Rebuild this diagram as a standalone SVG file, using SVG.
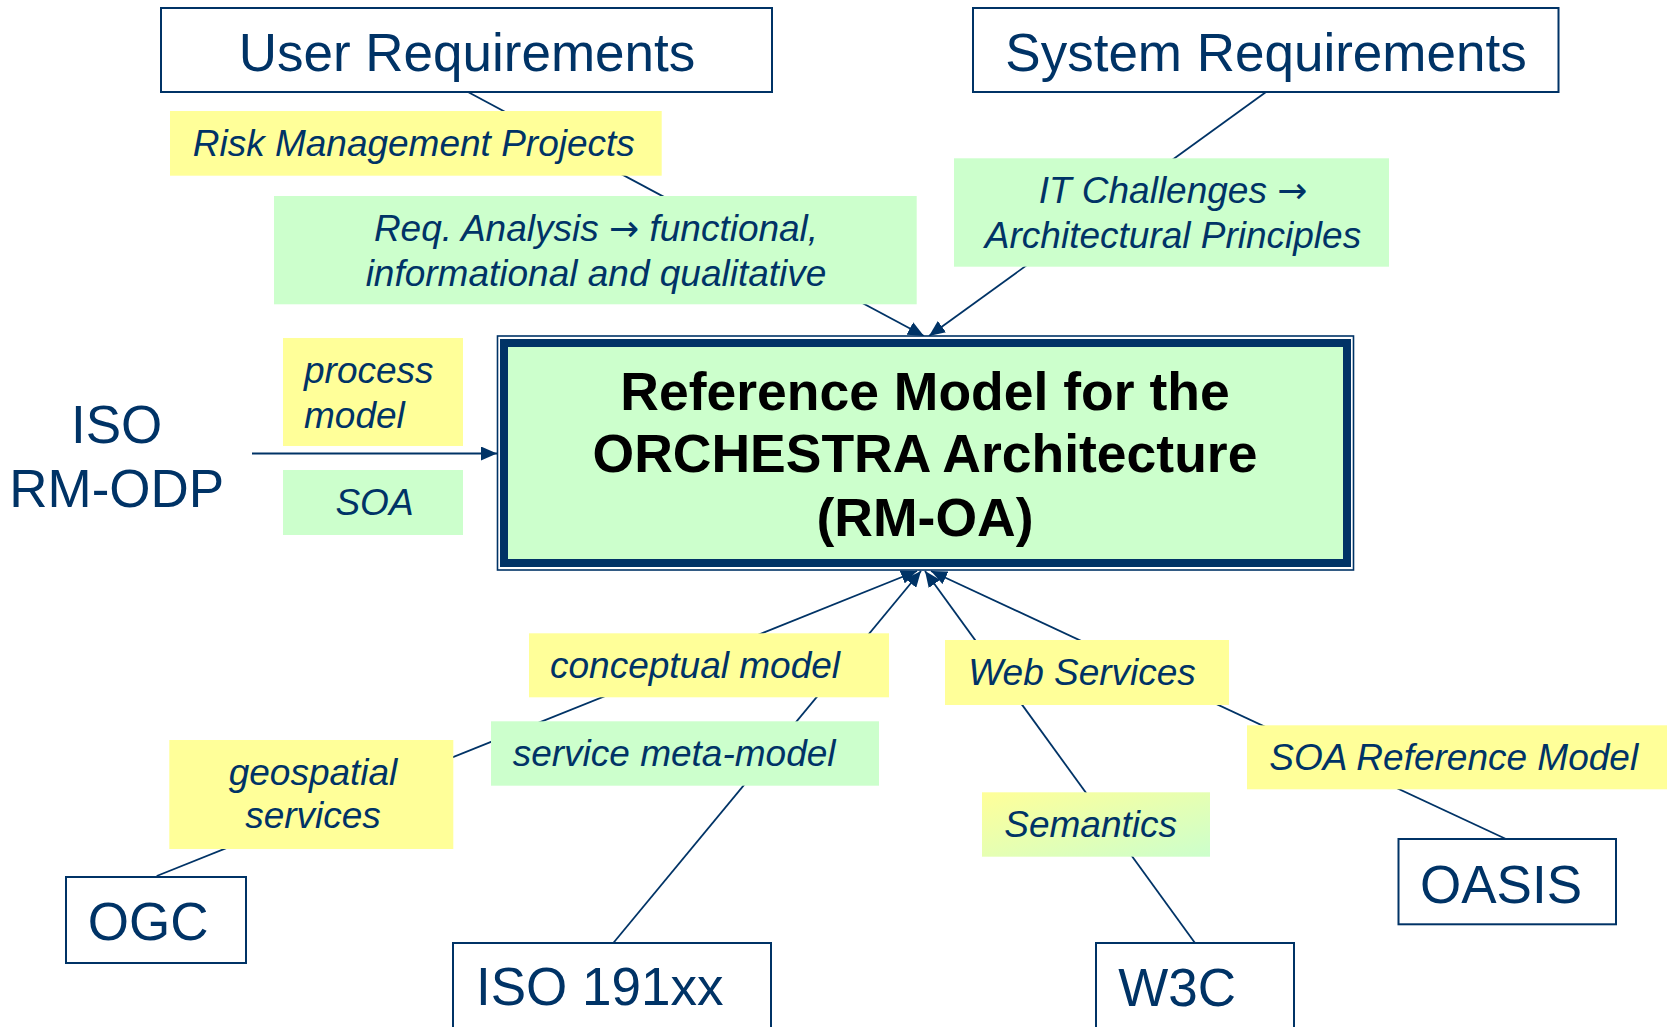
<svg xmlns="http://www.w3.org/2000/svg" width="1667" height="1027" viewBox="0 0 1667 1027">
<style>
  .box { fill: #FFFFFF; stroke: #003366; stroke-width: 2; }
  .yel { fill: #FFFF99; }
  .grn { fill: #CCFFCC; }
  .big { font-family: "Liberation Sans", Arial, sans-serif; font-size: 53px; fill: #003366; }
  .lbl { font-family: "Liberation Sans", Arial, sans-serif; font-size: 37px; font-style: italic; fill: #003366; }
  .ar { font-family: "DejaVu Sans", sans-serif; font-style: normal; font-size: 36px; }
  .main { font-family: "Liberation Sans", Arial, sans-serif; font-size: 53.5px; font-weight: bold; fill: #000000; text-anchor: middle; }
  .con { fill: none; stroke: #003366; stroke-width: 1.8; }
  .mid { text-anchor: middle; }
</style>
<defs>
  <marker id="arr" markerUnits="userSpaceOnUse" markerWidth="17" markerHeight="14" refX="16" refY="7" orient="auto">
    <path d="M0,0 L16,7 L0,14 Z" fill="#003366"/>
  </marker>
  <linearGradient id="semGrad" x1="0" y1="0" x2="1" y2="1">
    <stop offset="0" stop-color="#FFFF99"/>
    <stop offset="1" stop-color="#CCFFCC"/>
  </linearGradient>
</defs>
<rect width="1667" height="1027" fill="#FFFFFF"/>

<g id="connectors">
  <line class="con" x1="468" y1="92" x2="924" y2="336" marker-end="url(#arr)"/>
  <line class="con" x1="1266" y1="92" x2="929" y2="336" marker-end="url(#arr)"/>
  <line class="con" x1="252" y1="453.5" x2="497" y2="453.5" marker-end="url(#arr)"/>
  <line class="con" x1="156.7" y1="876" x2="917" y2="571" marker-end="url(#arr)"/>
  <line class="con" x1="613.3" y1="943" x2="921" y2="571" marker-end="url(#arr)"/>
  <line class="con" x1="1195" y1="943" x2="925" y2="571" marker-end="url(#arr)"/>
  <line class="con" x1="1506" y1="839" x2="931" y2="571" marker-end="url(#arr)"/>
</g>

<g id="user-requirements">
  <rect class="box" x="161" y="8" width="611" height="84"/>
  <text class="big mid" x="467" y="70.7">User Requirements</text>
</g>
<g id="system-requirements">
  <rect class="box" x="973" y="8" width="585.5" height="84"/>
  <text class="big mid" x="1266" y="70.7">System Requirements</text>
</g>
<g id="risk-management-projects">
  <rect class="yel" x="170" y="111" width="491.7" height="64.7"/>
  <text class="lbl" x="192.7" y="156">Risk Management Projects</text>
</g>
<g id="req-analysis">
  <rect class="grn" x="274" y="196" width="642.7" height="108.3"/>
  <text class="lbl mid" x="596" y="240.7">Req. Analysis <tspan class="ar">→</tspan> functional,</text>
  <text class="lbl mid" x="596" y="286">informational and qualitative</text>
</g>
<g id="it-challenges">
  <rect class="grn" x="954" y="158.3" width="435" height="108.4"/>
  <text class="lbl mid" x="1173" y="203.3">IT Challenges <tspan class="ar">→</tspan></text>
  <text class="lbl mid" x="1173" y="248.3">Architectural Principles</text>
</g>
<g id="iso-rm-odp">
  <text class="big mid" x="116.7" y="443">ISO</text>
  <text class="big mid" x="116.7" y="507">RM-ODP</text>
</g>
<g id="process-model">
  <rect class="yel" x="283" y="338" width="180" height="108"/>
  <text class="lbl" x="304" y="383.3">process</text>
  <text class="lbl" x="304" y="428.3">model</text>
</g>
<g id="soa">
  <rect class="grn" x="283" y="470" width="180" height="65"/>
  <text class="lbl mid" x="374.5" y="515">SOA</text>
</g>
<g id="rm-oa">
  <rect x="497.5" y="336" width="856" height="234" fill="#FFFFFF" stroke="#003366" stroke-width="1.6"/>
  <rect x="504" y="343" width="843" height="220" fill="#CCFFCC" stroke="#003366" stroke-width="8"/>
  <text class="main" x="925" y="409.5">Reference Model for the</text>
  <text class="main" x="925" y="472">ORCHESTRA Architecture</text>
  <text class="main" x="925" y="536">(RM-OA)</text>
</g>
<g id="conceptual-model">
  <rect class="yel" x="529" y="633.3" width="360" height="64"/>
  <text class="lbl" x="550" y="678.3">conceptual model</text>
</g>
<g id="service-meta-model">
  <rect class="grn" x="491" y="721.3" width="388" height="64.4"/>
  <text class="lbl" x="512.7" y="766">service meta-model</text>
</g>
<g id="geospatial-services">
  <rect class="yel" x="169.3" y="740" width="284" height="109"/>
  <text class="lbl mid" x="313" y="785">geospatial</text>
  <text class="lbl mid" x="313" y="828.3">services</text>
</g>
<g id="web-services">
  <rect class="yel" x="945" y="640" width="284" height="65"/>
  <text class="lbl" x="968.3" y="685">Web Services</text>
</g>
<g id="semantics">
  <rect x="982" y="792.3" width="228" height="64.4" fill="url(#semGrad)"/>
  <text class="lbl" x="1004.3" y="837.3">Semantics</text>
</g>
<g id="soa-reference-model">
  <rect class="yel" x="1247" y="725.3" width="420" height="64"/>
  <text class="lbl" x="1269.3" y="770">SOA Reference Model</text>
</g>
<g id="ogc">
  <rect class="box" x="66" y="877" width="180" height="86"/>
  <text class="big" x="87.7" y="940">OGC</text>
</g>
<g id="iso-191xx">
  <rect class="box" x="453" y="943" width="318" height="100"/>
  <text class="big" x="476" y="1005">ISO 191xx</text>
</g>
<g id="w3c">
  <rect class="box" x="1096" y="943" width="198" height="100"/>
  <text class="big" x="1118.3" y="1005.7">W3C</text>
</g>
<g id="oasis">
  <rect class="box" x="1398.5" y="839" width="217.5" height="85.3"/>
  <text class="big" x="1420" y="902.7">OASIS</text>
</g>
</svg>
